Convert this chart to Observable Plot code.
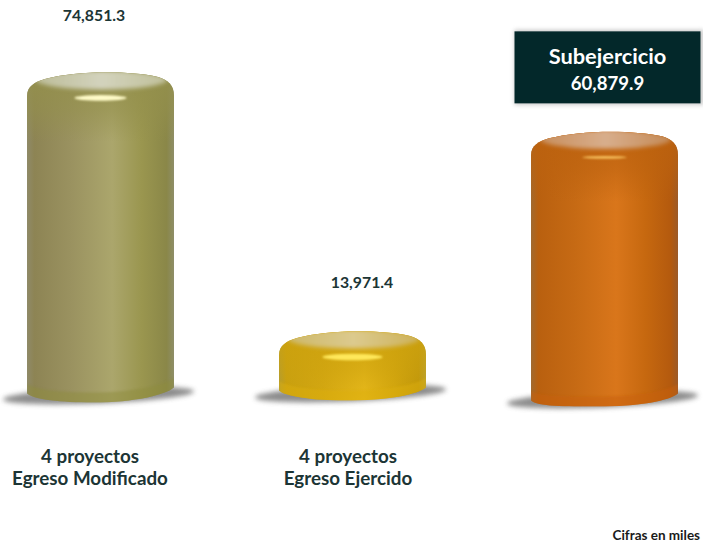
<!DOCTYPE html>
<html>
<head>
<meta charset="utf-8">
<script src="https://cdn.jsdelivr.net/npm/d3@7"></script>
<script src="https://cdn.jsdelivr.net/npm/@observablehq/plot@0.6"></script>
<style>
html,body{margin:0;padding:0;background:#fff;overflow:hidden}
svg{display:block;font-family:Lato,sans-serif}
</style>
</head>
<body>
<div id="chart"></div>
<script>
const categories = ["Egreso Modificado", "Egreso Ejercido", "Subejercicio"];
const values = [74851.3, 13971.4, 60879.9];
const valueLabels = ["74,851.3", "13,971.4", "60,879.9"];
const categoryLabels = ["4 proyectos\nEgreso Modificado", "4 proyectos\nEgreso Ejercido", ""];
const calloutTitle = "Subejercicio";
const note = "Cifras en miles";

const ink = "#1c3535";
const palettes = [
  {stops:["#8f8a68","#8d8454","#9a9260","#aba66c","#9a964f","#8a8748","#8e8e68"], rim:"#94904c", face:["#bcbc98","#d3d3bd","#c0c09a"], glow:"#fffbc8", band:"#8e8c3e", gr:26, gh:2.8},
  {stops:["#a89a40","#c79f10","#d4a812","#e8ba1c","#d4a70e","#bd940a","#b0a040"], rim:"#cda20e", face:["#cdb868","#dcca8e","#cdb25a"], glow:"#ffe85a", band:"#dcae0e", gr:30, gh:3.2},
  {stops:["#a06a30","#b9600f","#c66a14","#d9761b","#c6680f","#b45a0e","#9c5a28"], rim:"#bc620f", face:["#c88e5c","#d8ae8c","#c48a56"], glow:"#ffcf6a", band:"#c8610a", gr:22, gh:1.1}
];
const bottoms = [{left:3,right:-3,low:12},{left:0,right:-3,low:10},{left:10,right:3,low:16}];

const svgEl = (n, a = {}) => {
  const e = document.createElementNS("http://www.w3.org/2000/svg", n);
  for (const k in a) e.setAttribute(k, a[k]);
  return e;
};

function cylinders(index, scales, vals, dims, ctx, next) {
  const g = next(index, scales, vals, dims, ctx);
  const defs = svgEl("defs");
  const blur = (id, s) => {
    const f = svgEl("filter", {id, x:"-30%", y:"-100%", width:"160%", height:"300%"});
    f.append(svgEl("feGaussianBlur", {stdDeviation:s}));
    defs.append(f);
  };
  blur("b1", 1); blur("b2", 2); blur("b3", 2.4);
  g.prepend(defs);
  const y0 = scales.y(0);
  [...g.querySelectorAll("rect")].forEach((r, i) => {
    const p = palettes[i], b = bottoms[i];
    const x0 = +r.getAttribute("x"), w = +r.getAttribute("width"), T = +r.getAttribute("y");
    const x1 = x0 + w, cx = x0 + w / 2, base = y0;
    const gid = "body" + i;
    const lg = svgEl("linearGradient", {id:gid, x1:0, x2:1, y1:0, y2:0});
    p.stops.forEach((c, k) => {
      const offs = [0, .05, .3, .58, .78, .95, 1];
      lg.append(svgEl("stop", {offset:offs[k], "stop-color":c}));
    });
    defs.append(lg);
    const fg = svgEl("linearGradient", {id:"face"+i, x1:0, x2:1, y1:0, y2:0});
    p.face.forEach((c, k) => fg.append(svgEl("stop", {offset:k/2, "stop-color":c})));
    defs.append(fg);
    const sg = svgEl("linearGradient", {id:"rim"+i, x1:0, x2:0, y1:0, y2:1});
    sg.append(svgEl("stop", {offset:0, "stop-color":p.rim, "stop-opacity":.95}));
    sg.append(svgEl("stop", {offset:.55, "stop-color":p.rim, "stop-opacity":.55}));
    sg.append(svgEl("stop", {offset:1, "stop-color":p.rim, "stop-opacity":0}));
    defs.append(sg);

    const yl = base + b.left, yr = base + b.right, yb = base + b.low;
    const bottomCurve = `C${x1-8},${yr+7} ${cx+35},${yb} ${cx-8},${yb} C${x0+35},${yb} ${x0+6},${yl+6} ${x0},${yl}`;
    const d = `M${x0},${T+24} C${x0},${T+14} ${x0+8},${T+10} ${x0+18},${T+7}
      C${x0+48},${T-1} ${x1-48},${T-2} ${x1-16},${T+5}
      C${x1-6},${T+8} ${x1},${T+13} ${x1},${T+24}
      L${x1},${yr} ${bottomCurve} Z`;
    const clip = svgEl("clipPath", {id:"cyl"+i});
    clip.append(svgEl("path", {d}));
    defs.append(clip);

    const wrap = svgEl("g");
    r.replaceWith(wrap);
    // floor shadow, tilted like the base of the cylinder
    const sy = base + b.low - 7;
    wrap.append(svgEl("ellipse", {cx:cx-2, cy:sy, rx:w/2+22, ry:8, fill:"#707070", opacity:.8, filter:"url(#b3)", transform:`rotate(-2.4 ${cx-2} ${sy})`}));
    r.setAttribute("fill", `url(#${gid})`);
    r.setAttribute("height", yb - T);
    r.setAttribute("clip-path", `url(#cyl${i})`);
    wrap.append(r);
    const inner = svgEl("g", {"clip-path":`url(#cyl${i})`});
    inner.append(svgEl("rect", {x:x0, y:T, width:w, height:70, fill:`url(#rim${i})`}));
    // lower band following the base curve
    inner.append(svgEl("path", {
      d:`M${x1},${yr-10} C${x1-8},${yr-3} ${cx+35},${yb-10} ${cx-8},${yb-10} C${x0+35},${yb-10} ${x0+6},${yl-4} ${x0},${yl-10} L${x0},${yl+20} L${x1},${yr+20} Z`,
      fill:p.band, opacity:.5, filter:"url(#b1)"
    }));
    inner.append(svgEl("ellipse", {cx:cx+1, cy:T+8, rx:w/2-8, ry:9.5, fill:`url(#face${i})`, filter:"url(#b2)"}));
    inner.append(svgEl("ellipse", {cx, cy:T+26, rx:p.gr, ry:p.gh, fill:p.glow, filter:"url(#b1)"}));
    wrap.append(inner);
  });
  return g;
}

function callout(index, scales) {
  const cx = scales.x(categories[2]) + scales.x.bandwidth() / 2;
  const top = scales.y(values[2]);
  const g = svgEl("g");
  const defs = svgEl("defs");
  const f = svgEl("filter", {id:"boxShadow", x:"-10%", y:"-20%", width:"120%", height:"140%"});
  f.append(svgEl("feGaussianBlur", {stdDeviation:2}));
  defs.append(f);
  g.append(defs);
  g.append(svgEl("rect", {x:cx-90, y:top-101.5, width:189, height:75, fill:"#9a9a9a", opacity:.55, filter:"url(#boxShadow)"}));
  g.append(svgEl("rect", {x:cx-90, y:top-100, width:186, height:72, fill:"#03282a"}));
  return g;
}

const plot = Plot.plot({
  width: 703,
  height: 544,
  margin: 0,
  style: {fontFamily: "Lato, sans-serif", background: "#fff", overflow: "hidden"},
  x: {domain: categories, range: [26.5, 677.5], paddingInner: 0.417, paddingOuter: 0, align: 0.5, axis: null},
  y: {domain: [0, 80000], range: [390.4, 50], axis: null},
  marks: [
    Plot.barY(categories.map((c, i) => ({c, v: values[i]})), {
      x: "c", y: "v", insetBottom: -12, fill: "#999", render: cylinders
    }),
    callout,
    Plot.text([0], {x: () => categories[0], y: () => values[0], text: () => valueLabels[0], dy: -56, fontSize: 15.8, fontWeight: 700, fill: ink, dx: -7}),
    Plot.text([0], {x: () => categories[1], y: () => values[1], text: () => valueLabels[1], dy: -49, fontSize: 15.8, fontWeight: 700, fill: ink, dx: 9}),
    Plot.text([0], {x: () => categories[2], y: () => values[2], text: () => calloutTitle, dy: -75, dx: 2.5, fontSize: 21.8, fontWeight: 700, fill: "#fff"}),
    Plot.text([0], {x: () => categories[2], y: () => values[2], text: () => valueLabels[2], dy: -48, dx: 2.5, fontSize: 18.6, fontWeight: 700, fill: "#fff"}),
    Plot.text([0], {x: () => categories[0], y: () => 0, text: () => categoryLabels[0], dy: 76, dx: -11, fontSize: 18.8, fontWeight: 700, fill: ink, lineHeight: 1.15}),
    Plot.text([0], {x: () => categories[1], y: () => 0, text: () => categoryLabels[1], dy: 76, dx: -5, fontSize: 18.8, fontWeight: 700, fill: ink, lineHeight: 1.15}),
    Plot.text([note], {frameAnchor: "bottom-left", dx: 612, dy: -5, textAnchor: "start", fontSize: 13.5, fontWeight: 700, fill: "#1a1a1a"})
  ]
});
document.getElementById("chart").append(plot);
</script>
</body>
</html>
